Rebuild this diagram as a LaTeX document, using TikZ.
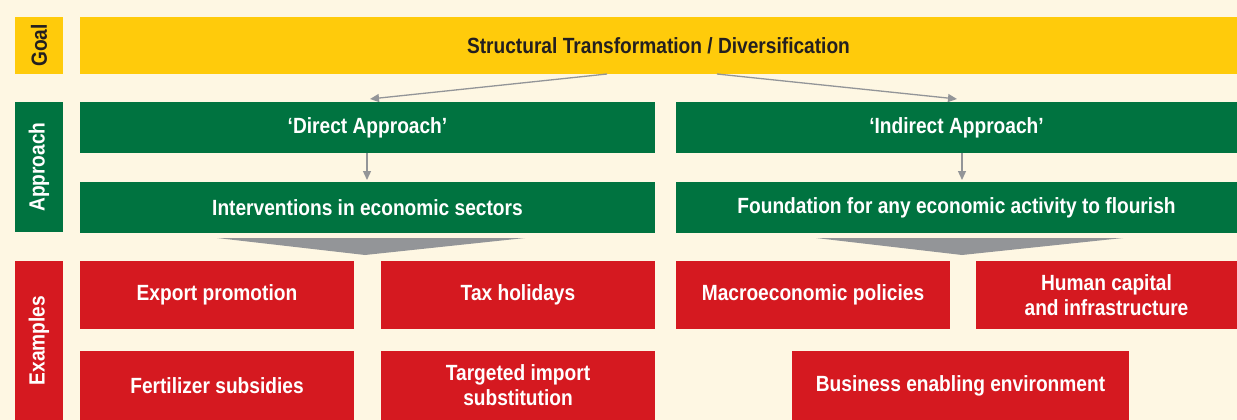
\documentclass[tikz,border=0pt]{standalone}
\usepackage{fontspec}
\setmainfont{Liberation Sans}[FakeStretch=0.87]
\usetikzlibrary{arrows.meta}
\definecolor{bgcream}{HTML}{FEF7E3}
\definecolor{goalyellow}{HTML}{FFCB0B}
\definecolor{apgreen}{HTML}{007340}
\definecolor{exred}{HTML}{D51920}
\definecolor{linkgrey}{HTML}{939598}
\definecolor{inkdark}{HTML}{231F20}
\begin{document}
\begin{tikzpicture}[x=1pt,y=-1pt,
  box/.style={inner sep=0pt, outer sep=0pt, font=\fontsize{22}{25}\selectfont\bfseries, align=center},
  goalbox/.style={box, fill=goalyellow, text=inkdark},
  greenbox/.style={box, fill=apgreen, text=white},
  redbox/.style={box, fill=exred, text=white},
  sidebox/.style={inner sep=0pt, outer sep=0pt, minimum width=48pt, font=\fontsize{22}{25}\selectfont\bfseries},
  arr/.style={draw=linkgrey, line width=1.3pt, -{Triangle[length=9pt,width=8pt]}}
]
\useasboundingbox (0,0) rectangle (1237,420);
\fill[bgcream] (0,0) rectangle (1237,420);

% row labels
\node[sidebox, fill=goalyellow, text=inkdark, minimum height=57pt] (lgoal) at (39,45.5) {\rotatebox{90}{Goal}};
\node[sidebox, fill=apgreen, text=white, minimum height=130pt] (lapp) at (39,167) {\rotatebox{90}{Approach}};
\node[sidebox, fill=exred, text=white, minimum height=159pt] (lex) at (39,340.5) {\rotatebox{90}{Examples}};

% goal
\node[goalbox, minimum width=1157pt, minimum height=57pt] (goal) at (658.5,45.5) {Structural Transformation / Diversification};

% approaches
\node[greenbox, minimum width=575pt, minimum height=51pt] (direct) at (367.5,127.5) {‘Direct Approach’};
\node[greenbox, minimum width=561pt, minimum height=51pt] (indirect) at (956.5,127.5) {‘Indirect Approach’};
\node[greenbox, minimum width=575pt, minimum height=51pt] (interv) at (367.5,207.5) {Interventions in economic sectors};
\node[greenbox, minimum width=561pt, minimum height=51pt] (found) at (956.5,207.5) {Foundation for any economic activity to flourish};

% examples
\node[redbox, minimum width=274pt, minimum height=68pt] (export) at (217,295) {Export promotion};
\node[redbox, minimum width=274pt, minimum height=68pt] (tax) at (518,295) {Tax holidays};
\node[redbox, minimum width=274pt, minimum height=68pt] (macro) at (813,295) {Macroeconomic policies};
\node[redbox, minimum width=261pt, minimum height=68pt] (human) at (1106.5,295) {Human capital\\and infrastructure};
\node[redbox, minimum width=274pt, minimum height=69pt] (fert) at (217,385.5) {Fertilizer subsidies};
\node[redbox, minimum width=274pt, minimum height=69pt] (target) at (518,385.5) {Targeted import\\substitution};
\node[redbox, minimum width=337pt, minimum height=69pt] (business) at (960.5,385.5) {Business enabling environment};

% connectors
\draw[arr] ([xshift=-51.5pt]goal.south) -- ([xshift=2.5pt,yshift=3pt]direct.north);
\draw[arr] ([xshift=58.5pt]goal.south) -- ([xshift=0.5pt,yshift=3pt]indirect.north);
\draw[arr] ([xshift=-0.5pt]direct.south) -- ([xshift=-0.5pt,yshift=2pt]interv.north);
\draw[arr] ([xshift=5.5pt]indirect.south) -- ([xshift=5.5pt,yshift=2pt]found.north);

% funnels towards the examples
\fill[linkgrey] (217,238) -- (525,238) -- (365,255) -- cycle;
\fill[linkgrey] (816,238) -- (1123,238) -- (962,255) -- cycle;
\end{tikzpicture}
\end{document}
